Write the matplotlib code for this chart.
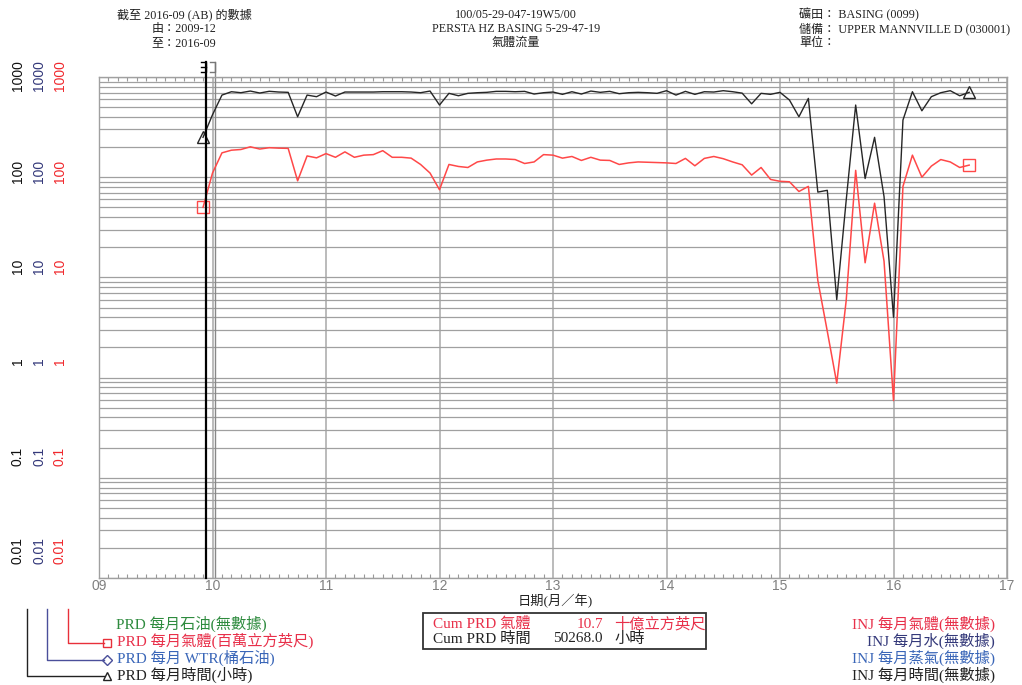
import numpy as np
import matplotlib
matplotlib.use('Agg')
import matplotlib.pyplot as plt
import matplotlib.transforms as mtransforms
from matplotlib.lines import Line2D
from matplotlib.patches import Rectangle
from matplotlib.ticker import FixedLocator, LogLocator, NullFormatter

SERIF = ['Liberation Serif', 'Noto Sans CJK TC']
SANS = ['Liberation Sans', 'DejaVu Sans']

W, H = 1022, 685

# monthly production 2009-12 .. 2016-09
start_year, start_month = 2009, 12
hours = [250, 420, 660, 713, 697, 724, 692, 720, 708, 703,
         401, 660, 636, 708, 646, 708, 708, 708, 708, 713,
         713, 713, 708, 697, 724, 525, 687, 650, 687, 697,
         703, 719, 719, 713, 719, 676, 697, 708, 671, 713,
         676, 724, 703, 719, 681, 697, 703, 697, 687, 730,
         660, 719, 671, 713, 708, 730, 713, 690, 540, 687,
         671, 703, 589, 401, 612, 71, 74, 6.0, 59, 525,
         97, 250, 64, 4.0, 372, 713, 460, 636, 697, 730,
         650, 703]
gas_mmcf = [50, 110, 175, 186, 189, 201, 191, 197, 195, 194,
            92, 163, 156, 172, 158, 179, 158, 166, 168, 184,
            158, 158, 155, 134, 110, 75, 134, 128, 125, 142,
            148, 152, 152, 150, 137, 142, 168, 166, 155, 161,
            147, 158, 148, 147, 134, 139, 142, 141, 140, 139,
            137, 154, 130, 154, 161, 153, 142, 133, 105, 125,
            95, 91, 90, 72, 81, 9.3, 2.9, 0.88, 5.9, 117,
            14, 55, 14.5, 0.59, 81, 166, 100, 129, 150, 142,
            125, 132]

years = list(range(2009, 2018))
year_labels = ['09', '10', '11', '12', '13', '14', '15', '16', '17']
decade_labels = ['0.01', '0.1', '1', '10', '100', '1000']
axis_label_colors = ['#111111', '#34397a', '#f0282d']

# event dates drawn as vertical markers
on_prod_date = 2009.94
first_prod_date = 2010.022

cum_gas = '10.7'
cum_hours = '50268.0'

t = start_year + (start_month - 1) / 12 + np.arange(len(hours)) / 12


def fx(x):
    return x / W


def fy(y):
    return 1 - y / H


fig = plt.figure(figsize=(W / 100, H / 100), dpi=100)
ax = fig.add_axes([fx(99), fy(578), fx(1007) - fx(99), fy(77) - fy(578)])

ax.set_yscale('log')
ax.set_ylim(0.01, 1000)
ax.set_xlim(years[0], years[-1])

ax.yaxis.set_major_locator(LogLocator(base=10, numticks=10))
ax.yaxis.set_minor_locator(LogLocator(base=10, subs=np.arange(2, 10), numticks=20))
ax.yaxis.set_minor_formatter(NullFormatter())
ax.tick_params(axis='y', which='both', length=0, labelleft=False)
ax.grid(True, axis='y', which='both', color='#a0a0a0', lw=0.9)

ax.xaxis.set_major_locator(FixedLocator(years))
ax.set_xticklabels(year_labels)
ax.xaxis.set_minor_locator(FixedLocator(np.arange(years[0], years[-1], 1 / 12)))
ax.tick_params(axis='x', which='major', length=0, labelsize=10, labelcolor='#808080', pad=1)
ax.tick_params(axis='x', which='minor', direction='in', length=3, color='#999999',
               top=True, bottom=True, width=0.8)
for lab in ax.get_xticklabels():
    lab.set_family(SANS)
ax.grid(True, axis='x', which='major', color='#a8a8a8', lw=1.1)
for s in ax.spines.values():
    s.set_color('#a0a0a0')
    s.set_linewidth(1.0)

# production curves
ax.plot(t, hours, color='#262626', lw=1.0, zorder=3)
ax.plot(t, gas_mmcf, color='#ff4848', lw=1.1, zorder=3)
ax.plot([t[0], t[-1]], [hours[0], hours[-1]], ls='none', marker='^', ms=8,
        mfc='none', mec='#262626', mew=1.0, zorder=4)
ax.plot([t[0], t[-1]], [gas_mmcf[0], gas_mmcf[-1]], ls='none', marker='s', ms=8,
        mfc='none', mec='#ff4848', mew=1.0, zorder=4)

# event lines with their bracket flags above the frame
trans = mtransforms.blended_transform_factory(ax.transData, ax.transAxes)
top = 1 + 15 / 501
flag_h = 10 / 501
ax.plot([on_prod_date, on_prod_date], [0, top], transform=trans, color='black',
        lw=1.6, clip_on=False, zorder=5)
ax.plot([first_prod_date, first_prod_date], [0, top], transform=trans, color='#888888',
        lw=1.0, clip_on=False, zorder=2)
dx = 5 / 113.5
ax.plot([on_prod_date - dx, on_prod_date, on_prod_date, on_prod_date - dx],
        [top, top, top - flag_h, top - flag_h], transform=trans, color='black',
        lw=1.0, clip_on=False)
ax.plot([on_prod_date - dx, on_prod_date], [top - flag_h / 2] * 2, transform=trans,
        color='black', lw=1.0, clip_on=False)
ax.plot([first_prod_date - dx, first_prod_date, first_prod_date, first_prod_date - dx],
        [top, top, top - flag_h, top - flag_h], transform=trans, color='#777777',
        lw=1.0, clip_on=False)

# three stacked value scales on the left
label_y = np.linspace(551, 76, len(decade_labels))
for col_x, col_c in zip([18, 39, 60], axis_label_colors):
    for yy, txt in zip(label_y, decade_labels):
        fig.text(fx(col_x), fy(yy), txt, rotation=90, ha='center', va='center',
                 color=col_c, fontsize=10, family=SANS)

fig.text(fx(555), fy(601), '日期(月／年)', ha='center', va='center', fontsize=9.5,
         family=SERIF, color='#222222')

# header blocks
hdr = dict(fontsize=8.7, family=SERIF, color='#222222', va='center')
fig.text(fx(184), fy(15), '截至 2016-09 (AB) 的數據', ha='center', **hdr)
fig.text(fx(184), fy(29), '由：2009-12', ha='center', **hdr)
fig.text(fx(184), fy(43), '至：2016-09', ha='center', **hdr)
fig.text(fx(516), fy(15), '100/05-29-047-19W5/00', ha='center', **hdr)
fig.text(fx(516), fy(29), 'PERSTA HZ BASING 5-29-47-19', ha='center', **hdr)
fig.text(fx(516), fy(43), '氣體流量', ha='center', **hdr)
fig.text(fx(799), fy(15), '礦田： BASING (0099)', ha='left', **hdr)
fig.text(fx(799), fy(29), '儲備： UPPER MANNVILLE D (030001)', ha='left', **hdr)
fig.text(fx(799), fy(43), '單位：', ha='left', **hdr)

# legend leaders from the scale columns to the series names
leaders = [(27, 676, '^', '#222222'), (47, 660, 'D', '#4a4f9a'), (68, 643, 's', '#e8303a')]
for lx, ly, mk, c in leaders:
    fig.add_artist(Line2D([fx(lx), fx(lx), fx(104)], [fy(609), fy(ly), fy(ly)],
                          transform=fig.transFigure, color=c, lw=1.0))
    fig.add_artist(Line2D([fx(107)], [fy(ly)], transform=fig.transFigure, marker=mk,
                          ms=6 if mk != 'D' else 5, mfc='none', mec=c, mew=1.0))

leg = dict(fontsize=11, family=SERIF, va='center')
fig.text(fx(116), fy(624), 'PRD 每月石油(無數據)', color='#2e8b3e', **leg)
fig.text(fx(117), fy(641), 'PRD 每月氣體(百萬立方英尺)', color='#e8304a', **leg)
fig.text(fx(117), fy(658), 'PRD 每月 WTR(桶石油)', color='#3a66b8', **leg)
fig.text(fx(117), fy(675), 'PRD 每月時間(小時)', color='#222222', **leg)

fig.text(fx(995), fy(624), 'INJ 每月氣體(無數據)', ha='right', color='#e8304a', **leg)
fig.text(fx(995), fy(641), 'INJ 每月水(無數據)', ha='right', color='#34397a', **leg)
fig.text(fx(995), fy(658), 'INJ 每月蒸氣(無數據)', ha='right', color='#3a66b8', **leg)
fig.text(fx(995), fy(675), 'INJ 每月時間(無數據)', ha='right', color='#222222', **leg)

# cumulative summary box
fig.add_artist(Rectangle((fx(423), fy(649)), fx(706) - fx(423), fy(613) - fy(649),
                         transform=fig.transFigure, fill=False, ec='#333333', lw=1.3))
fig.text(fx(433), fy(624), 'Cum PRD 氣體', color='#e8304a', **leg)
fig.text(fx(603), fy(624), cum_gas, ha='right', color='#e8304a', **leg)
fig.text(fx(614), fy(624), '十億立方英尺', color='#e8304a', **leg)
fig.text(fx(433), fy(639), 'Cum PRD 時間', color='#222222', **leg)
fig.text(fx(603), fy(639), cum_hours, ha='right', color='#222222', **leg)
fig.text(fx(614), fy(639), '小時', color='#222222', **leg)

fig.savefig('out.png', dpi=100)
